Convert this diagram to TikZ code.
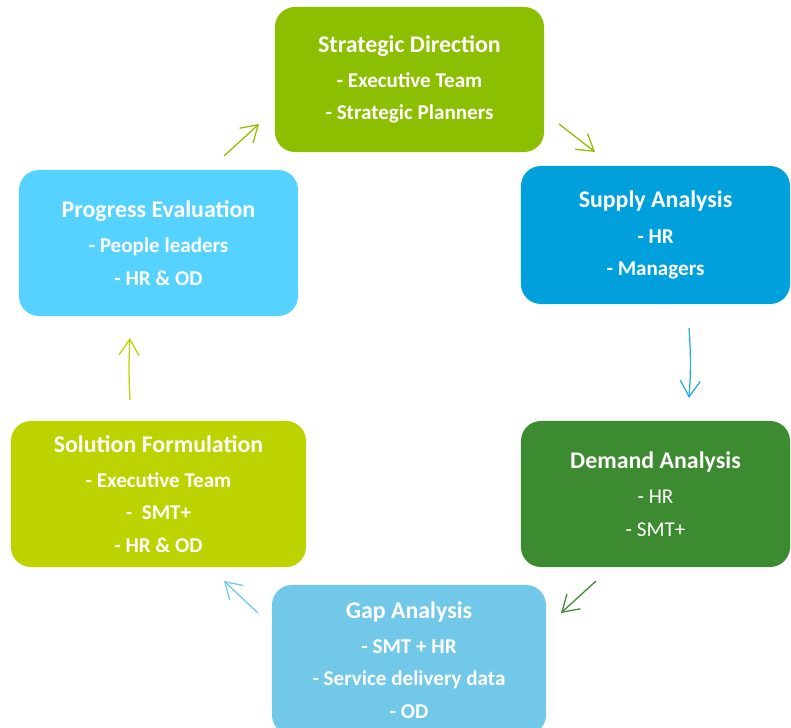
\documentclass[tikz,border=0pt]{standalone}
\usepackage{fontspec}
\setmainfont{Carlito}
\usetikzlibrary{arrows.meta}

\definecolor{stratgreen}{HTML}{8CBF00}
\definecolor{supplyblue}{HTML}{00A0DC}
\definecolor{demandgreen}{HTML}{3D8B30}
\definecolor{gapblue}{HTML}{72C8E8}
\definecolor{solutionlime}{HTML}{BDD300}
\definecolor{progresssky}{HTML}{55D2FF}

\newcommand{\stagetitle}[1]{{\fontsize{17}{20}\selectfont #1}}

\begin{document}
\begin{tikzpicture}[x=0.025cm,y=-0.025cm,
	>={Straight Barb[length=0.4cm,width=0.5cm]},
	stage/.style={rectangle,rounded corners=0.5cm,text=white,align=center,
		inner sep=0pt,font=\fontsize{15}{18}\selectfont\bfseries},
	link/.style={->,line width=0.9pt}]

	\useasboundingbox (0,0) rectangle (791,728);

	\node[stage,fill=stratgreen,minimum width=6.725cm,minimum height=3.625cm] (strat) at (409.5,79.5)
		{\stagetitle{Strategic Direction}\\[7pt] - Executive Team\\[5pt] - Strategic Planners};
	\node[stage,fill=supplyblue,minimum width=6.725cm,minimum height=3.45cm] (supply) at (655.5,235)
		{\stagetitle{Supply Analysis}\\[7pt] - HR\\[5pt] - Managers};
	\node[stage,fill=demandgreen,minimum width=6.725cm,minimum height=3.65cm,font=\fontsize{15}{18}\selectfont] (demand) at (655.5,494)
		{\stagetitle{\bfseries Demand Analysis}\\[7pt] - HR\\[5pt] - SMT+};
	\node[stage,fill=gapblue,minimum width=6.85cm,minimum height=3.75cm] (gap) at (409,660)
		{\stagetitle{Gap Analysis}\\[7pt] - SMT + HR\\[5pt] - Service delivery data\\[5pt] - OD};
	\node[stage,fill=solutionlime,minimum width=7.375cm,minimum height=3.65cm] (solution) at (158.5,494)
		{\stagetitle{Solution Formulation}\\[7pt] - Executive Team\\[5pt] -\ \ SMT+\\[5pt] - HR \& OD};
	\node[stage,fill=progresssky,minimum width=6.975cm,minimum height=3.65cm] (progress) at (158.5,243)
		{\stagetitle{Progress Evaluation}\\[7pt] - People leaders\\[5pt] - HR \& OD};

	% arrow ends
	\coordinate (a1) at (559,124); \coordinate (b1) at (595,152);
	\coordinate (a2) at (689,328); \coordinate (b2) at (689,398);
	\coordinate (a3) at (596,581); \coordinate (b3) at (561,613);
	\coordinate (a4) at (258,613); \coordinate (b4) at (224,581);
	\coordinate (a5) at (130,400); \coordinate (b5) at (130,338);
	\coordinate (a6) at (224,156); \coordinate (b6) at (259,124);

	\draw[link,stratgreen] (a1) -- (b1);
	\draw[link,supplyblue!85] (a2) to[bend left=4] (b2);
	\draw[link,demandgreen] (a3) -- (b3);
	\draw[link,gapblue] (a4) -- (b4);
	\draw[link,solutionlime] (a5) to[bend left=3] (b5);
	\draw[link,stratgreen] (a6) -- (b6);
\end{tikzpicture}
\end{document}
